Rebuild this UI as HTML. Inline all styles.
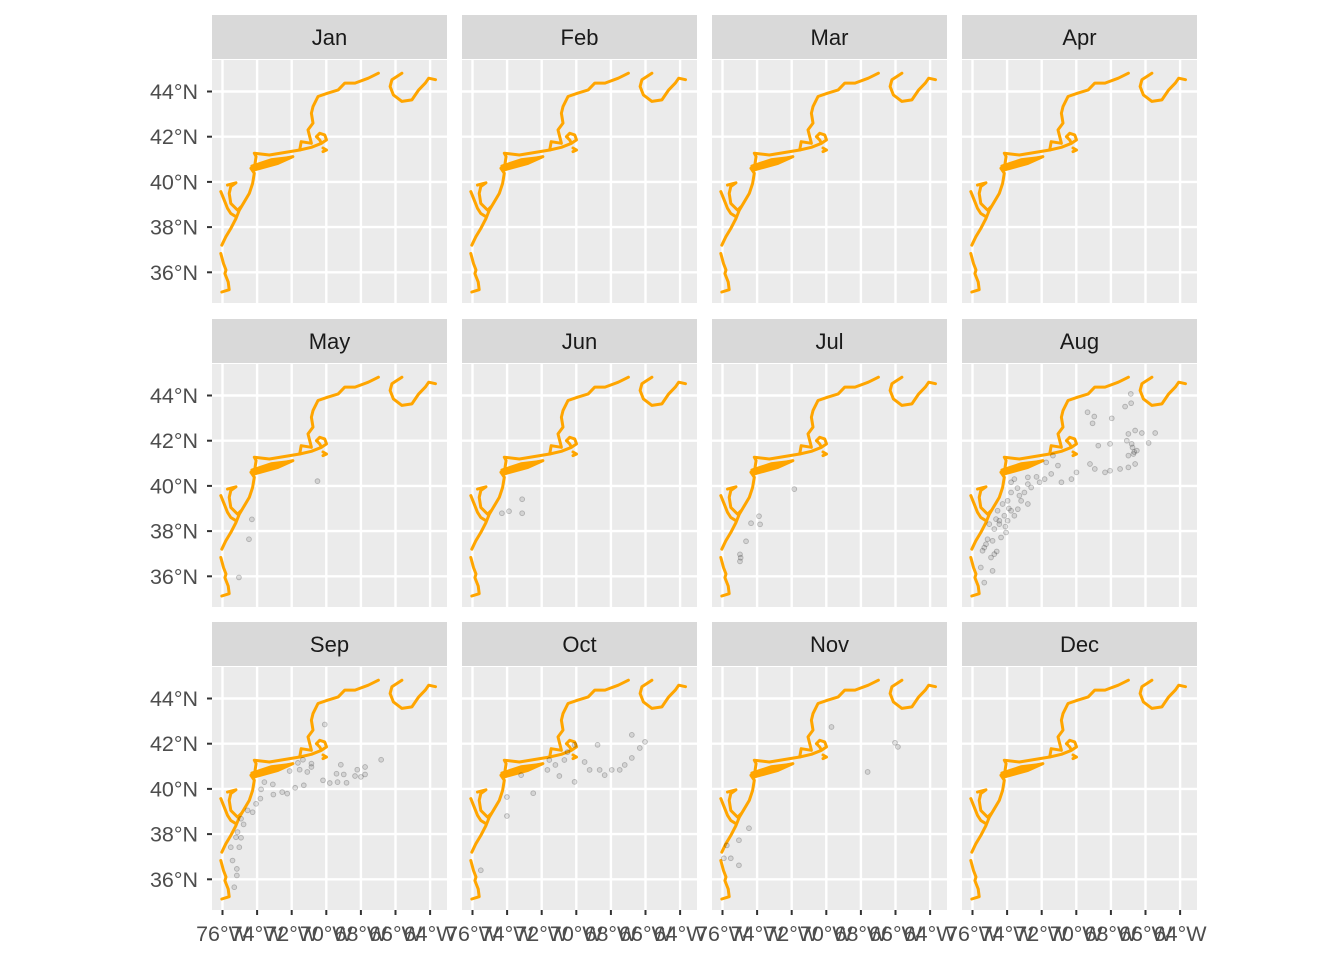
<!DOCTYPE html>
<html><head><meta charset="utf-8"><style>
html,body{margin:0;padding:0;background:#fff;}
svg{display:block;font-family:"Liberation Sans",sans-serif;}
</style></head><body>
<svg id="chart" width="1344" height="960" viewBox="0 0 1344 960"></svg>
<script>
const months = ["Jan","Feb","Mar","Apr","May","Jun","Jul","Aug","Sep","Oct","Nov","Dec"];
const lonTicks = [-76,-74,-72,-70,-68,-66,-64];
const latTicks = [44,42,40,38,36];
const lonTickLabels = ["76°W","74°W","72°W","70°W","68°W","66°W","64°W"];
const latTickLabels = ["44°N","42°N","40°N","38°N","36°N"];
// coastline segments [lon,lat]
const coastSegments = [
 [[-76.04,35.13],[-75.61,35.23],[-75.67,35.57],[-75.86,35.94],[-75.80,36.10],[-75.94,36.39],[-76.10,36.83]],
 [[-76.04,37.20],[-75.81,37.57],[-75.52,37.94],[-75.22,38.38],[-75.03,38.75],[-74.74,39.12],[-74.45,39.49],[-74.26,39.93],[-74.16,40.38],[-74.35,40.60]],
 [[-76.10,39.57],[-75.90,39.20],[-75.71,38.83],[-75.52,38.60],[-75.22,38.46]],
 [[-75.71,39.86],[-75.22,39.96],[-75.52,39.79],[-75.61,39.49],[-75.52,39.05],[-75.13,38.75],[-74.93,38.90]],
 [[-74.35,40.60],[-73.19,40.90],[-71.93,41.12],[-72.80,40.82],[-74.16,40.53],[-74.35,40.60]],
 [[-74.30,40.70],[-73.19,40.98],[-72.10,41.08],[-73.40,40.75],[-74.30,40.66]],
 [[-74.16,40.60],[-74.06,41.12],[-74.16,41.27],[-73.29,41.19],[-71.54,41.41],[-70.86,41.53],[-70.28,41.71],[-69.99,41.86],[-70.09,42.08],[-70.38,42.15],[-70.57,42.00],[-70.38,41.86],[-70.28,41.71]],
 [[-71.54,41.41],[-71.45,41.78],[-70.86,41.71],[-71.06,42.30],[-70.77,42.60],[-70.86,43.04],[-70.77,43.33],[-70.48,43.78],[-69.90,43.93],[-69.31,44.07],[-68.93,44.37],[-68.34,44.37],[-67.57,44.59],[-66.99,44.81]],
 [[-70.19,41.34],[-69.99,41.41],[-70.19,41.50]],
 [[-65.63,44.81],[-66.21,44.52],[-66.31,44.22],[-66.12,43.85],[-65.63,43.56],[-65.05,43.63],[-64.66,44.07],[-64.28,44.37],[-64.08,44.59],[-63.69,44.52]]
];
// observation points per month [lon,lat]
const monthPoints = {
 May:[[-75.05,35.95],[-74.47,37.64],[-74.30,38.52],[-70.51,40.21]],
 Jun:[[-74.30,38.79],[-73.89,38.88],[-73.13,39.41],[-73.13,38.79]],
 Jul:[[-74.99,36.97],[-74.99,36.66],[-74.95,36.82],[-74.64,37.55],[-74.35,38.35],[-73.89,38.66],[-73.83,38.30],[-71.85,39.86]],
 Aug:[[-75.32,35.72],[-74.84,36.24],[-75.52,36.39],[-74.74,36.98],[-75.32,37.27],[-74.35,37.72],[-75.13,37.64],[-74.06,37.94],[-74.74,38.09],[-74.45,38.46],[-73.97,38.46],[-73.58,38.68],[-74.55,38.90],[-73.97,39.34],[-73.38,38.97],[-73.19,39.34],[-73.77,39.71],[-73.00,39.71],[-72.61,39.93],[-73.58,40.30],[-72.80,40.38],[-72.12,40.16],[-71.83,40.30],[-71.45,40.53],[-70.86,40.16],[-70.28,40.30],[-69.99,40.60],[-71.06,40.90],[-71.74,41.04],[-71.35,41.34],[-69.21,40.97],[-68.93,40.75],[-68.34,40.60],[-68.05,40.67],[-67.47,40.75],[-66.99,40.82],[-66.60,40.97],[-66.99,41.34],[-66.70,41.41],[-66.50,41.56],[-66.80,41.86],[-68.73,41.78],[-68.05,41.86],[-67.08,42.00],[-66.99,42.30],[-66.60,42.45],[-66.21,42.34],[-65.44,42.34],[-65.82,41.90],[-69.35,43.26],[-68.96,43.07],[-69.06,42.77],[-67.95,42.99],[-67.18,43.51],[-66.83,43.66],[-66.85,44.07],[-75.42,37.13],[-75.22,37.42],[-74.93,36.83],[-74.64,38.53],[-73.77,38.90],[-74.16,38.68],[-73.29,39.57],[-72.80,40.08],[-73.77,40.16],[-74.26,39.20],[-72.80,39.20],[-74.45,38.31],[-75.03,38.31],[-74.84,37.57],[-73.90,39.00],[-74.10,38.20],[-74.60,37.10],[-73.40,39.90],[-72.30,40.40],[-66.75,41.70],[-66.65,41.50]],
 Sep:[[-75.32,35.65],[-75.17,36.17],[-75.17,36.46],[-75.42,36.83],[-75.52,37.42],[-75.03,37.42],[-75.22,37.86],[-74.93,37.84],[-75.13,38.09],[-74.78,38.43],[-74.93,38.68],[-74.55,39.05],[-74.26,38.97],[-74.06,39.34],[-73.81,39.57],[-73.77,39.98],[-73.09,40.20],[-73.58,40.30],[-73.06,39.75],[-72.55,39.86],[-72.26,39.79],[-71.80,40.05],[-71.30,40.16],[-72.12,40.79],[-71.54,40.85],[-71.64,41.15],[-70.86,40.97],[-71.10,40.75],[-70.86,41.12],[-71.35,41.29],[-70.19,40.38],[-69.80,40.26],[-69.35,40.30],[-68.83,40.27],[-69.41,40.67],[-68.99,40.64],[-69.16,41.07],[-68.34,40.57],[-68.00,40.53],[-67.76,40.64],[-68.21,40.85],[-67.76,40.97],[-66.83,41.29],[-70.09,42.85]],
 Oct:[[-75.52,36.40],[-74.01,39.64],[-74.01,38.80],[-73.19,40.61],[-72.49,39.81],[-71.67,40.84],[-71.21,41.06],[-70.69,41.28],[-70.10,41.95],[-70.10,40.31],[-69.23,40.84],[-68.77,41.95],[-68.36,40.61],[-67.95,40.84],[-67.49,40.84],[-67.20,41.06],[-66.79,41.37],[-66.33,41.81],[-66.03,42.08],[-66.79,42.39],[-70.98,40.57],[-70.51,41.63],[-68.65,40.84],[-69.52,41.19],[-71.56,41.28]],
 Nov:[[-75.92,36.93],[-75.52,36.93],[-75.05,36.62],[-75.05,37.73],[-74.47,38.26],[-69.70,42.74],[-67.61,40.75],[-66.03,42.04],[-65.86,41.86],[-75.75,37.50]]
};

const NS='http://www.w3.org/2000/svg';
const svg=document.getElementById('chart');
function mk(tag,attrs,parent){const e=document.createElementNS(NS,tag);for(const k in attrs)e.setAttribute(k,attrs[k]);(parent||svg).appendChild(e);return e;}

const colX=[212,462,712,962], rowY=[15,319,622];
const PW=235, STRIP=44, PH=243;
function xS(lon){return 10.5+(lon+76)*17.3;}
function yS(lat){return 31.5+(44-lat)*22.6;}

months.forEach((m,i)=>{
  const c=i%4, r=Math.floor(i/4);
  const x0=colX[c], y0=rowY[r];
  const g=mk('g',{transform:`translate(${x0},${y0})`});
  
  
  const strip=mk('rect',{x:0,y:0,width:PW,height:STRIP,fill:'#d9d9d9'},g);
  
  
  const st=mk('text',{x:PW/2,y:30,'text-anchor':'middle','font-size':'22',fill:'#1a1a1a'},g);
  st.textContent=m;
  
  
  const pg=mk('g',{transform:`translate(0,${STRIP+1})`},g);
  const bg=mk('rect',{x:0,y:0,width:PW,height:PH,fill:'#ebebeb'},pg);
  
  
  lonTicks.forEach(l=>{const ln=mk('line',{x1:xS(l),x2:xS(l),y1:0,y2:PH,stroke:'#fff','stroke-width':2.4},pg);
    });
  latTicks.forEach(l=>{const ln=mk('line',{x1:0,x2:PW,y1:yS(l),y2:yS(l),stroke:'#fff','stroke-width':2.4},pg);
    });
  coastSegments.forEach(seg=>{
    const p=mk('polyline',{points:seg.map(q=>xS(q[0]).toFixed(1)+','+yS(q[1]).toFixed(1)).join(' '),fill:'none',stroke:'#FFA500','stroke-width':3,'stroke-linejoin':'round','stroke-linecap':'round'},pg);
    
    
  });
  (monthPoints[m]||[]).forEach(q=>{
    const ci=mk('circle',{cx:xS(q[0]),cy:yS(q[1]),r:2.4,fill:'rgba(0,0,0,0.1)',stroke:'rgba(0,0,0,0.22)','stroke-width':0.9},pg);
    
    
  });
  if(c===0){
    latTicks.forEach((l,k)=>{
      const yy=STRIP+1+yS(l);
      const t=mk('line',{x1:-5,x2:0,y1:yy,y2:yy,stroke:'#333','stroke-width':2},g);
      
      const tx=mk('text',{x:-14,y:yy+7.5,'text-anchor':'end','font-size':'21.5',fill:'#4d4d4d'},g);
      tx.textContent=latTickLabels[k];
      
    });
  }
  if(r===2){
    lonTicks.forEach((l,k)=>{
      const xx=xS(l), yb=STRIP+1+PH;
      const t=mk('line',{x1:xx,x2:xx,y1:yb,y2:yb+5,stroke:'#333','stroke-width':2},g);
      
      const tx=mk('text',{x:xx,y:yb+31,'text-anchor':'middle','font-size':'21.5',fill:'#4d4d4d'},g);
      tx.textContent=lonTickLabels[k];
      
    });
  }
});
</script>
</body></html>
